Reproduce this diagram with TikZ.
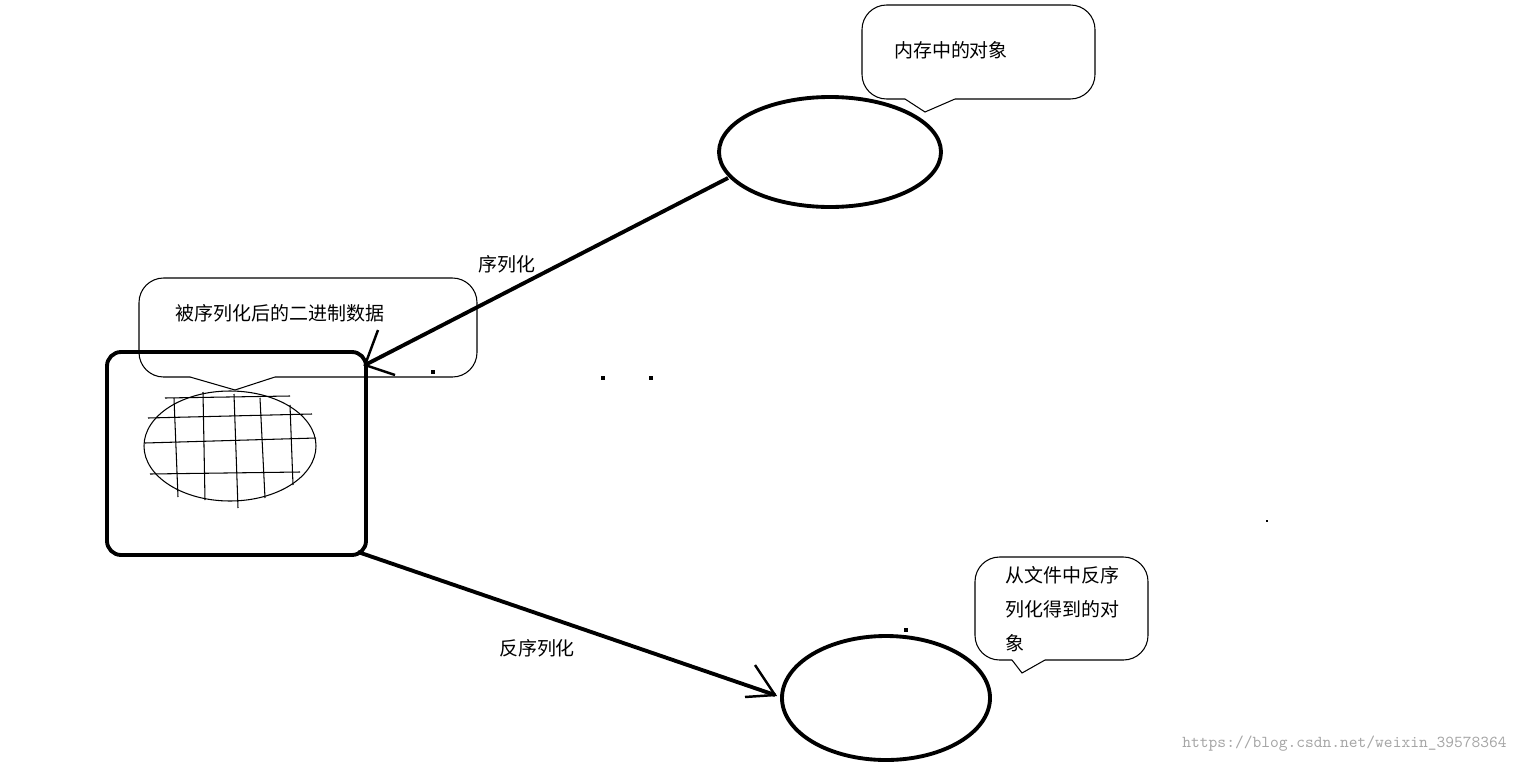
\documentclass[tikz,border=0pt]{standalone}
\usepackage{fontspec}
\newfontfamily\cjk{Noto Sans CJK SC}
\tikzset{
 thin line/.style={draw=black,line width=0.6pt},
 thick line/.style={draw=black,line width=2.2pt},
 lbl/.style={font=\cjk\fontsize{10.8}{19.4}\selectfont,inner sep=0pt},
 dotm/.style={fill=black,minimum size=2.5pt,inner sep=0pt,rectangle}
}
\begin{document}
\begin{tikzpicture}[x=0.02cm,y=-0.02cm]
\useasboundingbox (0,0) rectangle (1517,764);
% top callout
\draw[thin line,rounded corners=14pt] (905,99) -- (862,99) -- (862,5) -- (1095,5) -- (1095,99) -- (955,99);
\draw[thin line] (905,99) -- (925,112) -- (955,99);
\node[lbl] (t1) at (951,50) {内存中的对象};
% top ellipse
\draw[thick line] (830,152) ellipse [x radius=111,y radius=55];
\coordinate (a1) at (728,178);
\coordinate (a2) at (365,365);
\draw[thick line] (a1) -- (a2);
\draw[line width=1.4pt] (378,330) -- (a2) -- (395,375);
\node[lbl] (s1) at (507,264) {序列化};
% left callout
\draw[thin line,rounded corners=14pt] (190,377) -- (139,377) -- (139,278) -- (477,278) -- (477,377) -- (275,377);
\draw[thin line] (190,377) -- (235,390) -- (275,377);
\node[lbl] (t2) at (280,313) {被序列化后的二进制数据};
% box
\draw[thick line,rounded corners=8pt] (107,352) rectangle (366,555);
\draw[thin line] (230,446) ellipse [x radius=86,y radius=55];
\draw[thin line] (148,418) -- (312,414);
\draw[thin line] (145,443) -- (316,438);
\draw[thin line] (150,474) -- (300,472);
\draw[thin line] (165,398) -- (290,396);
\draw[thin line] (174,398) -- (178,497);
\draw[thin line] (203,392) -- (205,500);
\draw[thin line] (234,394) -- (238,508);
\draw[thin line] (260,398) -- (265,498);
\draw[thin line] (290,405) -- (293,485);
% dots
\node[dotm] (d1) at (433,372) {};
\node[dotm] (d2) at (603,378) {};
\node[dotm] (d3) at (651,378) {};
\node[dotm,minimum size=1.5pt] (d4) at (1267,521) {};
\node[dotm] (d5) at (906,630) {};
% lower arrow
\coordinate (b1) at (358,552);
\coordinate (b2) at (775,695);
\draw[thick line] (b1) -- (b2);
\draw[line width=1.4pt] (755,665) -- (b2) -- (745,697);
\node[lbl] (s2) at (537,648) {反序列化};
% lower ellipse
\draw[thick line] (886,698) ellipse [x radius=104,y radius=62];
% lower callout
\draw[thin line,rounded corners=14pt] (1012,660) -- (975,660) -- (975,557) -- (1148,557) -- (1148,660) -- (1045,660);
\draw[thin line] (1012,660) -- (1022,673) -- (1045,660);
\node[lbl,anchor=north west,align=left] (t3) at (1005,566) {从文件中反序\\列化得到的对\\象};
\node[font=\ttfamily\fontsize{9.5}{10}\selectfont,text=black!35,inner sep=0pt,anchor=east] (w) at (1507,744) {https://blog.csdn.net/weixin\_39578364};
\end{tikzpicture}
\end{document}
